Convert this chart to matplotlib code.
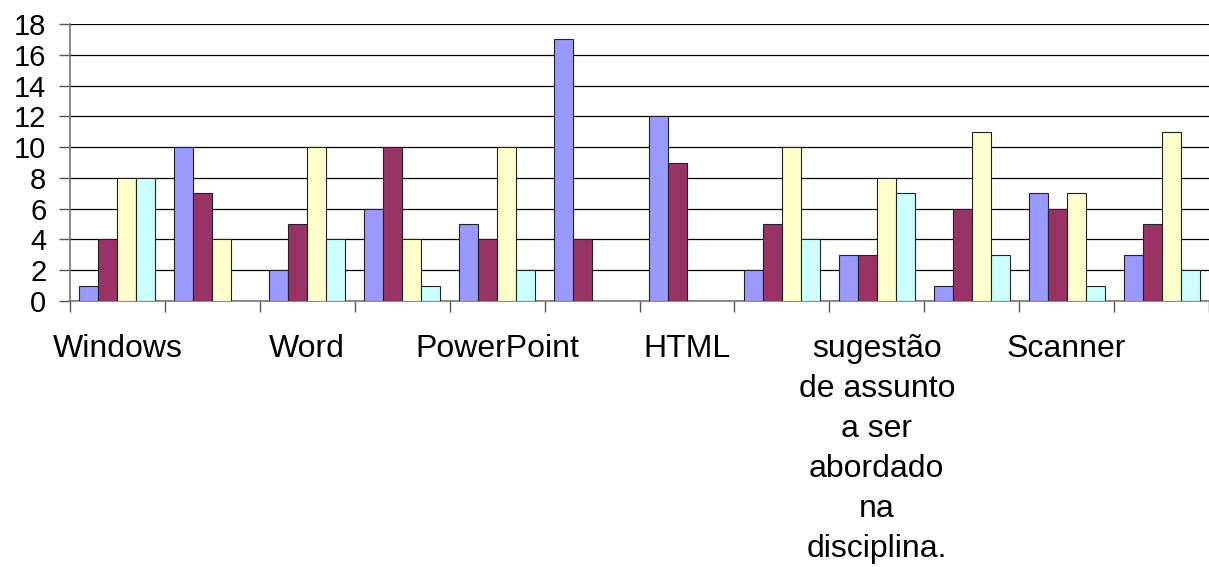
import numpy as np
import matplotlib
matplotlib.use('Agg')
import matplotlib.pyplot as plt

plt.rcParams['font.family'] = ['Liberation Sans', 'DejaVu Sans']

# categories (Excel only shows every other label)
categories = ['Windows', '', 'Word', '', 'PowerPoint', '', 'HTML', '',
              'sugestão\nde assunto\na ser\nabordado\nna\ndisciplina.', '', 'Scanner', '']

serie1 = [1, 10, 2, 6, 5, 17, 12, 2, 3, 1, 7, 3]
serie2 = [4, 7, 5, 10, 4, 4, 9, 5, 3, 6, 6, 5]
serie3 = [8, 4, 10, 4, 10, 0, 0, 10, 8, 11, 7, 11]
serie4 = [8, 0, 4, 1, 2, 0, 0, 4, 7, 3, 1, 2]

series = [serie1, serie2, serie3, serie4]
colors = ['#9999FF', '#993366', '#FFFFCC', '#CCFFFF']

fig = plt.figure(figsize=(12.09, 5.67), dpi=100)
ax = fig.add_axes([70 / 1209, 266 / 567, 1139 / 1209, 277 / 567])

x = np.arange(len(categories))
w = 0.2
for i, (vals, c) in enumerate(zip(series, colors)):
    vals = np.array(vals)
    keep = vals > 0
    ax.bar(x[keep] + (i - 1.5) * w, vals[keep], width=w, color=c,
           edgecolor='#222222', linewidth=0.8, zorder=3)

ax.set_xlim(-0.5, len(categories) - 0.5)
ax.set_ylim(0, 18)
ax.set_yticks(range(0, 19, 2))
ax.yaxis.grid(True, color='black', linewidth=0.9, zorder=0)
ax.set_axisbelow(True)

# boundary ticks (major) and labels at centres (minor)
ax.set_xticks(np.arange(-0.5, len(categories), 1))
ax.set_xticklabels([])
ax.set_xticks(x, minor=True)
ax.set_xticklabels(categories, minor=True, fontsize=23, linespacing=1.43,
                   va='top')
ax.tick_params(axis='x', which='major', length=8, color='#555555', width=1)
ax.tick_params(axis='x', which='minor', length=0, pad=24)
ax.tick_params(axis='y', labelsize=21, length=8, color='#555555', width=1, pad=9)

for s in ['top', 'right']:
    ax.spines[s].set_visible(False)
for s in ['left', 'bottom']:
    ax.spines[s].set_color('#777777')
    ax.spines[s].set_linewidth(1.2)

fig.savefig('out.png', dpi=100)
